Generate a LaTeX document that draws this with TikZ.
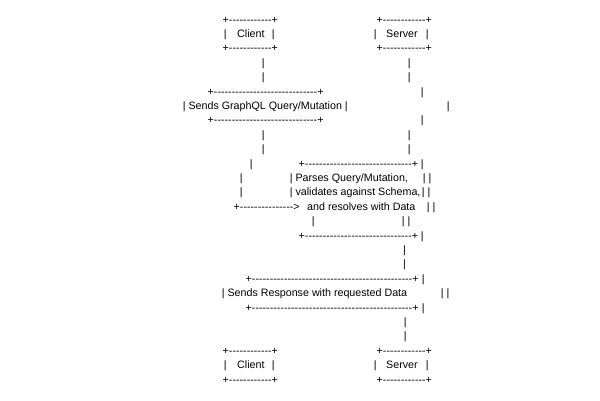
\documentclass[tikz,border=0pt]{standalone}
\usepackage{fontspec}
\newfontfamily\asciifont{Liberation Sans}[Ligatures=TeXOff]
\usepackage{tikz}
\usetikzlibrary{positioning}
\newcommand{\dashrun}[1]{\foreach \k in {1,...,#1}{-}}

\begin{document}
\begin{tikzpicture}[x=1pt, y=-1pt,
    asc/.style={anchor=mid west, inner sep=0pt, font=\asciifont\fontsize{10.7}{12}\selectfont},
    vbar/.style={asc}
]
    \fill[white] (0,0) rectangle (600,400);
    \useasboundingbox (0,0) rectangle (600,400);

    % top boxes
    \node[asc] (ctop1) at (222.5,21) {+\dashrun{12}+};
    \node[asc] (stop1) at (376.5,21) {+\dashrun{12}+};
    \node[vbar] (ctopl) at (223.6,35.4) {|};
    \node[asc] (ctop) at (237,35.4) {Client};
    \node[vbar] (ctopr) at (271.6,35.4) {|};
    \node[vbar] (stopl) at (373.6,35.4) {|};
    \node[asc] (stop) at (386,35.4) {Server};
    \node[vbar] (stopr) at (425.6,35.4) {|};
    \node[asc] (ctop3) at (222.5,49.8) {+\dashrun{12}+};
    \node[asc] (stop3) at (376.5,49.8) {+\dashrun{12}+};

    \node[vbar] (cl4) at (261.6,64.2) {|};
    \node[vbar] (sl4) at (407.6,64.2) {|};
    \node[vbar] (cl5) at (261.6,78.6) {|};
    \node[vbar] (sl5) at (407.6,78.6) {|};

    % request
    \node[asc] (req1) at (207.5,93) {+\dashrun{29}+};
    \node[vbar] (sl6) at (420.6,93) {|};
    \node[asc] (req) at (182.6,107.4) {| Sends GraphQL Query/Mutation |};
    \node[vbar] (sl7) at (446.6,107.4) {|};
    \node[asc] (req3) at (207.5,121.8) {+\dashrun{29}+};
    \node[vbar] (sl8) at (420.6,121.8) {|};

    \node[vbar] (cl9) at (261.6,136.2) {|};
    \node[vbar] (sl9) at (407.6,136.2) {|};
    \node[vbar] (cl10) at (261.6,150.6) {|};
    \node[vbar] (sl10) at (407.6,150.6) {|};

    % parse
    \node[vbar] (cl11) at (249.6,165) {|};
    \node[asc] (par1) at (298.5,165) {+\dashrun{30}+};
    \node[vbar] (sl11) at (420.6,165) {|};
    \node[vbar] (cl12) at (239.6,179.4) {|};
    \node[asc] (par2) at (289.6,179.4) {| Parses Query/Mutation,};
    \node[asc] (sl12) at (422.6,179.4) {| |};
    \node[vbar] (cl13) at (239.6,193.8) {|};
    \node[asc] (par3) at (289.6,193.8) {| validates against Schema,};
    \node[asc] (sl13) at (421.6,193.8) {| |};
    \node[asc] (arr) at (233.5,208.2) {+\dashrun{15}>};
    \node[asc] (par4) at (307,208.2) {and resolves with Data};
    \node[asc] (sl14) at (426.6,208.2) {| |};
    \node[vbar] (pl15) at (311.6,222.6) {|};
    \node[asc] (sl15) at (401.6,222.6) {| |};
    \node[asc] (par5) at (298.5,237) {+\dashrun{30}+};
    \node[vbar] (sl16) at (420.6,237) {|};

    \node[vbar] (sl17) at (403,251.4) {|};
    \node[vbar] (sl18) at (403,265.8) {|};

    % response
    \node[asc] (res1) at (245.5,280.2) {+\dashrun{45}+};
    \node[vbar] (sl19) at (421.6,280.2) {|};
    \node[asc] (res) at (221.6,294.6) {| Sends Response with requested Data};
    \node[asc] (sl20) at (440.6,294.6) {| |};
    \node[asc] (res3) at (245.5,309) {+\dashrun{45}+};
    \node[vbar] (sl21) at (421.6,309) {|};

    \node[vbar] (sl22) at (403.6,323.4) {|};
    \node[vbar] (sl23) at (403.6,337.8) {|};

    % bottom boxes
    \node[asc] (cbot1) at (222.5,352.2) {+\dashrun{12}+};
    \node[asc] (sbot1) at (376.5,352.2) {+\dashrun{12}+};
    \node[vbar] (cbotl) at (223.6,366.6) {|};
    \node[asc] (cbot) at (237,366.6) {Client};
    \node[vbar] (cbotr) at (271.6,366.6) {|};
    \node[vbar] (sbotl) at (373.6,366.6) {|};
    \node[asc] (sbot) at (386,366.6) {Server};
    \node[vbar] (sbotr) at (425.6,366.6) {|};
    \node[asc] (cbot3) at (222.5,381) {+\dashrun{12}+};
    \node[asc] (sbot3) at (376.5,381) {+\dashrun{12}+};
\end{tikzpicture}
\end{document}
